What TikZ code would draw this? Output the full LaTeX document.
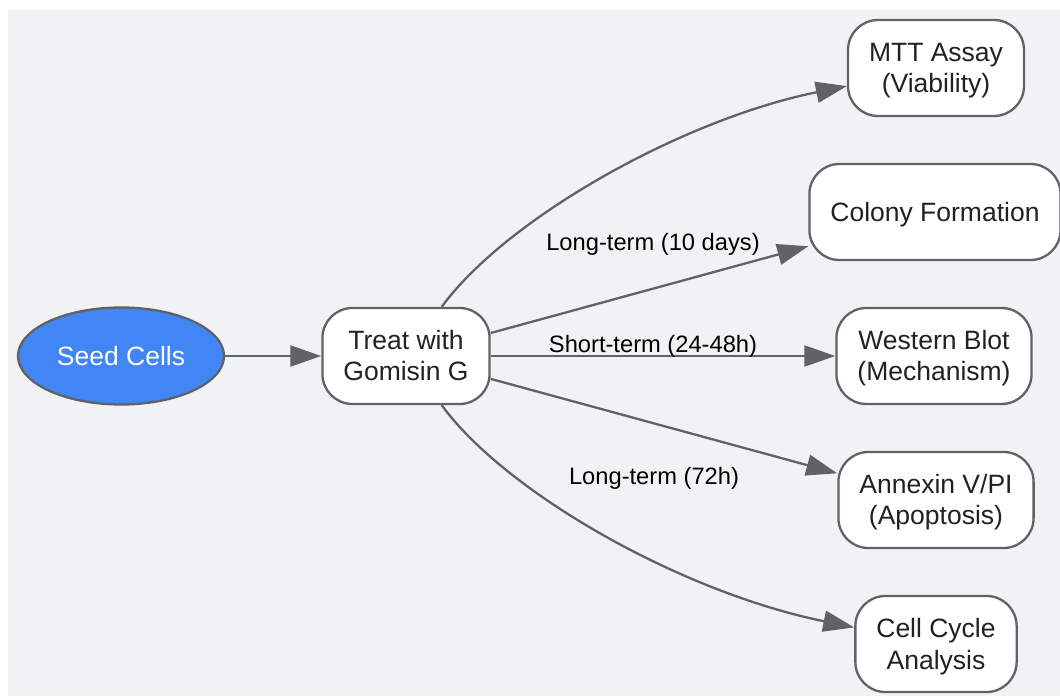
\documentclass[tikz,border=0pt]{standalone}
\usepackage{fontspec}
\setmainfont{Liberation Sans}
\usetikzlibrary{arrows.meta,shapes.geometric}
\definecolor{bgcol}{HTML}{F1F2F4}
\definecolor{linecol}{HTML}{5F6368}
\definecolor{seedblue}{HTML}{4285F4}
\definecolor{txtcol}{HTML}{202124}
\newcommand{\topstrut}{\rule{0pt}{0.905em}}
\newcommand{\botstrut}{\rule[-0.212em]{0pt}{0pt}}
\begin{document}
\begin{tikzpicture}[x=1pt,y=1pt,
    boxbase/.style={draw=linecol,line width=2.3pt,fill=white,rounded corners=30pt,
      minimum height=96pt,inner xsep=21pt,align=center,text=txtcol,
      font=\fontsize{26.5}{31.5}\selectfont},
    box/.style={boxbase,text height=50pt,text depth=0pt},
    onebox/.style={boxbase,execute at begin node=\topstrut,
      execute at end node=\botstrut},
    edge/.style={draw=linecol,line width=2.3pt,-{Triangle[length=31pt,width=21pt]}},
    lbl/.style={text=black,font=\fontsize{23.7}{28}\selectfont,
      execute at begin node=\topstrut,execute at end node=\botstrut}]
    \useasboundingbox (0,0) rectangle (1060,696);
    \fill [bgcol] (8,0) rectangle (1060,686);
    \node [ellipse,draw=linecol,line width=2.3pt,fill=seedblue,text=white,
      minimum width=206pt,minimum height=97pt,inner sep=0pt,
      font=\fontsize{26.5}{31}\selectfont,
      execute at begin node=\topstrut,execute at end node=\botstrut]
      (seed) at (121,340) {Seed Cells};
    \node [box] (treat) at (406,340) {Treat with\\Gomisin G};
    \node [box] (mtt) at (936,628) {MTT Assay\\(Viability)};
    \node [onebox] (colony) at (935,484) {Colony Formation};
    \node [box] (western) at (934,340) {Western Blot\\(Mechanism)};
    \node [box] (annexin) at (936,196) {Annexin V/PI\\(Apoptosis)};
    \node [box] (cycle) at (936,52) {Cell Cycle\\Analysis};
    \draw [edge] (seed) -- (treat);
    \draw [edge] (treat) .. controls (505,476) and (680,576) .. (mtt);
    \draw [edge] (treat) -- (colony);
    \draw [edge] (treat) -- (western);
    \draw [edge] (treat) -- (annexin);
    \draw [edge] (treat) .. controls (505,204) and (680,104) .. (cycle);
    \node [lbl] (lbl10d) at (653,454) {Long-term (10 days)};
    \node [lbl] (lbl24h) at (653,352) {Short-term (24-48h)};
    \node [lbl] (lbl72h) at (654,220) {Long-term (72h)};
  \end{tikzpicture}
\end{document}
